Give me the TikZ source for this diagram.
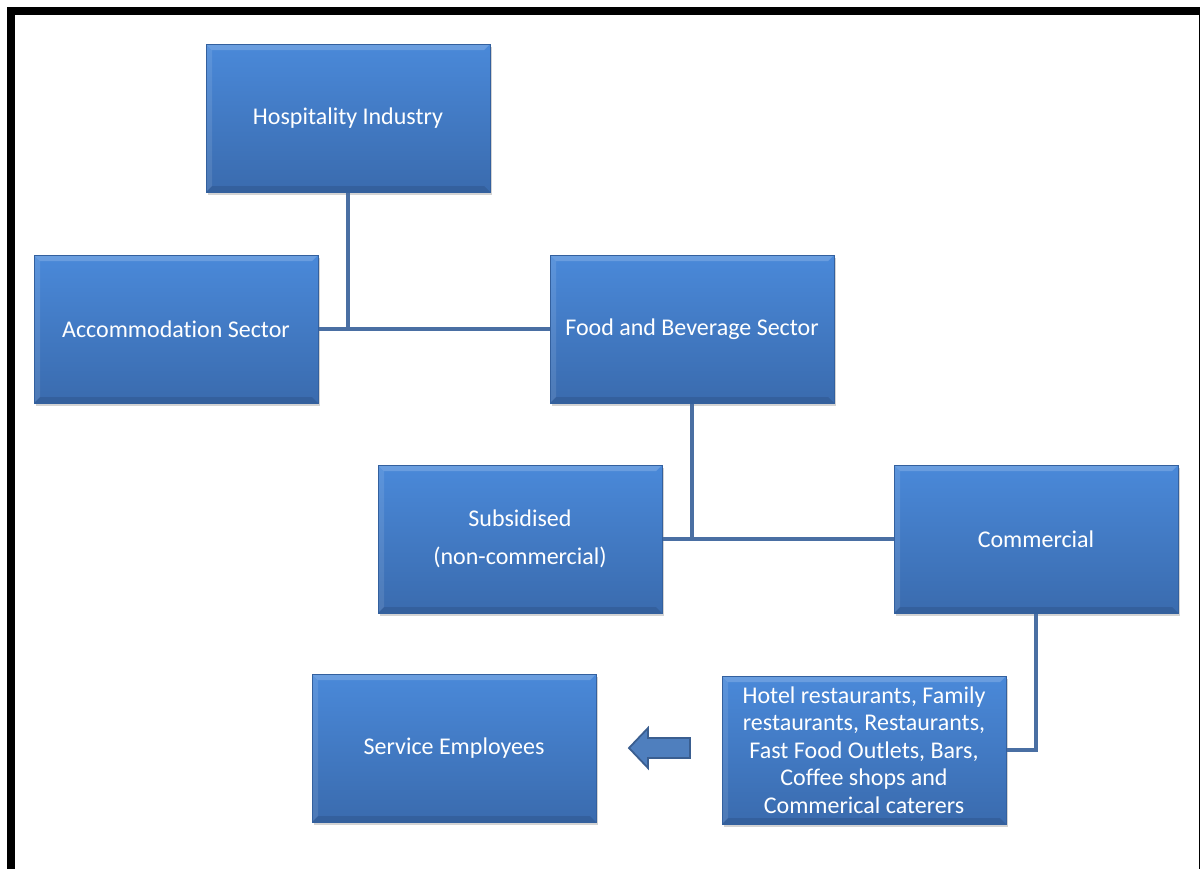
\documentclass[tikz,border=0pt]{standalone}
\usepackage{fontspec}
\setmainfont{Carlito}[Ligatures=NoCommon]
\usetikzlibrary{shadows}
\definecolor{boxtop}{HTML}{4A89D9}
\definecolor{boxbot}{HTML}{3A6BAE}
\definecolor{boxedge}{HTML}{33609E}
\definecolor{linkc}{HTML}{4A6FA3}
\definecolor{arrowfill}{HTML}{4F7FBE}
\definecolor{arrowedge}{HTML}{3A5E90}
\tikzset{
  orgbox/.style={rectangle, minimum width=284pt, minimum height=148pt,
    top color=boxtop, bottom color=boxbot, draw=boxedge, line width=1pt,
    drop shadow={shadow xshift=2pt, shadow yshift=-3pt, opacity=0.35},
    text=white, align=center, inner sep=4pt,
    font=\fontsize{24}{27.5}\selectfont,
    path picture={
      \fill[white, opacity=0.18] (path picture bounding box.north west) -- (path picture bounding box.north east)
        -- ([xshift=-6pt,yshift=-6pt]path picture bounding box.north east)
        -- ([xshift=6pt,yshift=-6pt]path picture bounding box.north west) -- cycle;
      \fill[white, opacity=0.10] (path picture bounding box.north west) -- (path picture bounding box.south west)
        -- ([xshift=6pt,yshift=6pt]path picture bounding box.south west)
        -- ([xshift=6pt,yshift=-6pt]path picture bounding box.north west) -- cycle;
      \fill[black, opacity=0.10] (path picture bounding box.south west) -- (path picture bounding box.south east)
        -- ([xshift=-6pt,yshift=6pt]path picture bounding box.south east)
        -- ([xshift=6pt,yshift=6pt]path picture bounding box.south west) -- cycle;
    }},
  link/.style={draw=linkc, line width=4pt},
  blockarrow/.style={fill=arrowfill, draw=arrowedge, line width=1.8pt, line join=miter}
}
\begin{document}
\begin{tikzpicture}[x=1pt,y=-1pt]
\useasboundingbox (0,0) rectangle (1200,868);
\draw[line width=8pt] (11,11) rectangle (1203,880);

\node[orgbox] (hosp) at (348,118) {Hospitality Industry};
\node[orgbox] (acc) at (176,329) {Accommodation Sector};
\node[orgbox] (fb) at (692,329) {Food and Beverage Sector};
\node[orgbox] (sub) at (520,539) {Subsidised\\[10pt](non-commercial)};
\node[orgbox] (com) at (1036,539) {Commercial};
\node[orgbox] (serv) at (454,748) {Service Employees};
\node[orgbox] (hotel) at (864,750) {Hotel restaurants, Family\\restaurants, Restaurants,\\Fast Food Outlets, Bars,\\Coffee shops and\\Commerical caterers};

\draw[link] (acc.east) -- (fb.west);
\draw[link] (hosp.south) -- (hosp.south |- acc.east);
\draw[link] (sub.east) -- (com.west);
\draw[link] (fb.south) -- (fb.south |- sub.east);
\draw[link] (com.south) |- (hotel.east);

\coordinate (arrtip) at (629,748);
\draw[blockarrow] (arrtip) -- ++(19,-20) -- ++(0,10) -- ++(42,0) -- ++(0,20)
  -- ++(-42,0) -- ++(0,10) -- cycle;
\end{tikzpicture}
\end{document}
